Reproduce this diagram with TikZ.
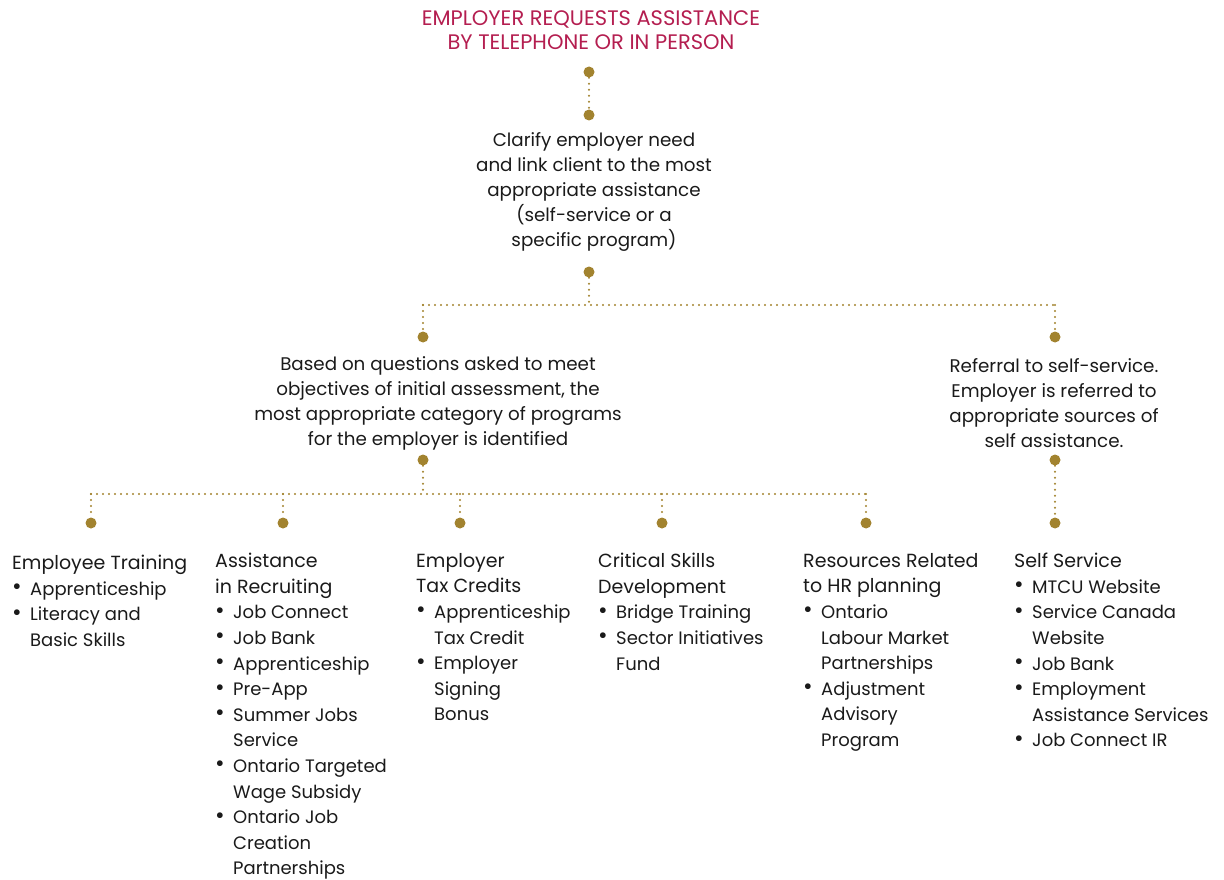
\documentclass[tikz,border=0pt]{standalone}
\usepackage{fontspec}
\setmainfont{Poppins}
\definecolor{gold}{HTML}{A2832F}
\definecolor{crim}{HTML}{B41E50}
\definecolor{txt}{HTML}{1A1A1A}
\newcommand{\bi}[1]{\makebox[18pt][l]{\raisebox{0.5pt}{\scalebox{1.3}{\textbullet}}}#1}
\newcommand{\ci}[1]{\hspace*{18pt}#1}
\newcommand{\hd}[1]{{\fontsize{19}{25.6}\selectfont #1}}
\begin{document}
\begin{tikzpicture}[x=1pt,y=-1pt,
  dot/.style={circle,fill=gold,inner sep=0pt,minimum size=11pt},
  dline/.style={draw=gold,line width=2.2pt,line cap=round,dash pattern=on 0pt off 6pt},
  ctext/.style={align=center,font=\fontsize{18.3}{25}\selectfont,text=txt,inner sep=0pt},
  col/.style={align=left,anchor=north west,font=\fontsize{18}{25.6}\selectfont,text=txt,inner sep=0pt},
  ttl/.style={align=center,font=\fontsize{21}{24}\selectfont,text=crim,inner sep=0pt}]
\useasboundingbox (0,0) rectangle (1224,880);
\node[ttl] (title) at (591,30) {EMPLOYER REQUESTS ASSISTANCE\\BY TELEPHONE OR IN PERSON};
\node[dot] (d1) at (589,72) {};
\node[dot] (d2) at (589,115) {};
\draw[dline] (d1) -- (d2);
\node[ctext] (clar) at (594,192) {Clarify employer need\\and link client to the most\\appropriate assistance\\(self-service or a\\specific program)};
\node[dot] (d3) at (589,272) {};
\coordinate (h1) at (589,305);
\coordinate (h1l) at (423,305);
\coordinate (h1r) at (1055,305);
\node[dot] (d4) at (423,337) {};
\node[dot] (d5) at (1055,337) {};
\draw[dline] (d3) -- (h1);
\draw[dline] (h1l) -- (h1r);
\draw[dline] (h1l) -- (d4);
\draw[dline] (h1r) -- (d5);
\node[ctext] (based) at (438,403) {Based on questions asked to meet\\objectives of initial assessment, the\\most appropriate category of programs\\for the employer is identified};
\node[ctext] (ref) at (1054,403) {Referral to self-service.\\Employer is referred to\\appropriate sources of\\self assistance.};
\node[dot] (d6) at (423,460) {};
\node[dot] (d7) at (1055,460) {};
\coordinate (h2) at (423,494);
\coordinate (h2l) at (91,494);
\coordinate (h2r) at (866,494);
\coordinate (h2b) at (283,494);
\coordinate (h2c) at (460,494);
\coordinate (h2d) at (662,494);
\node[dot] (e1) at (91,523) {};
\node[dot] (e2) at (283,523) {};
\node[dot] (e3) at (460,523) {};
\node[dot] (e4) at (662,523) {};
\node[dot] (e5) at (866,523) {};
\node[dot] (e6) at (1055,523) {};
\draw[dline] (d6) -- (h2);
\draw[dline] (h2l) -- (h2r);
\draw[dline] (h2l) -- (e1);
\draw[dline] (h2b) -- (e2);
\draw[dline] (h2c) -- (e3);
\draw[dline] (h2d) -- (e4);
\draw[dline] (h2r) -- (e5);
\draw[dline] (d7) -- (e6);
\node[col] (c1) at (12,555) {\hd{Employee Training}\\\bi{Apprenticeship}\\\bi{Literacy and}\\\ci{Basic Skills}};
\node[col] (c2) at (215,553) {\hd{Assistance}\\\hd{in Recruiting}\\\bi{Job Connect}\\\bi{Job Bank}\\\bi{Apprenticeship}\\\bi{Pre-App}\\\bi{Summer Jobs}\\\ci{Service}\\\bi{Ontario Targeted}\\\ci{Wage Subsidy}\\\bi{Ontario Job}\\\ci{Creation}\\\ci{Partnerships}};
\node[col] (c3) at (416,553) {\hd{Employer}\\\hd{Tax Credits}\\\bi{Apprenticeship}\\\ci{Tax Credit}\\\bi{Employer}\\\ci{Signing}\\\ci{Bonus}};
\node[col] (c4) at (598,553) {\hd{Critical Skills}\\\hd{Development}\\\bi{Bridge Training}\\\bi{Sector Initiatives}\\\ci{Fund}};
\node[col] (c5) at (803,553) {\hd{Resources Related}\\\hd{to HR planning}\\\bi{Ontario}\\\ci{Labour Market}\\\ci{Partnerships}\\\bi{Adjustment}\\\ci{Advisory}\\\ci{Program}};
\node[col] (c6) at (1014,553) {\hd{Self Service}\\\bi{MTCU Website}\\\bi{Service Canada}\\\ci{Website}\\\bi{Job Bank}\\\bi{Employment}\\\ci{Assistance Services}\\\bi{Job Connect IR}};
\end{tikzpicture}
\end{document}
